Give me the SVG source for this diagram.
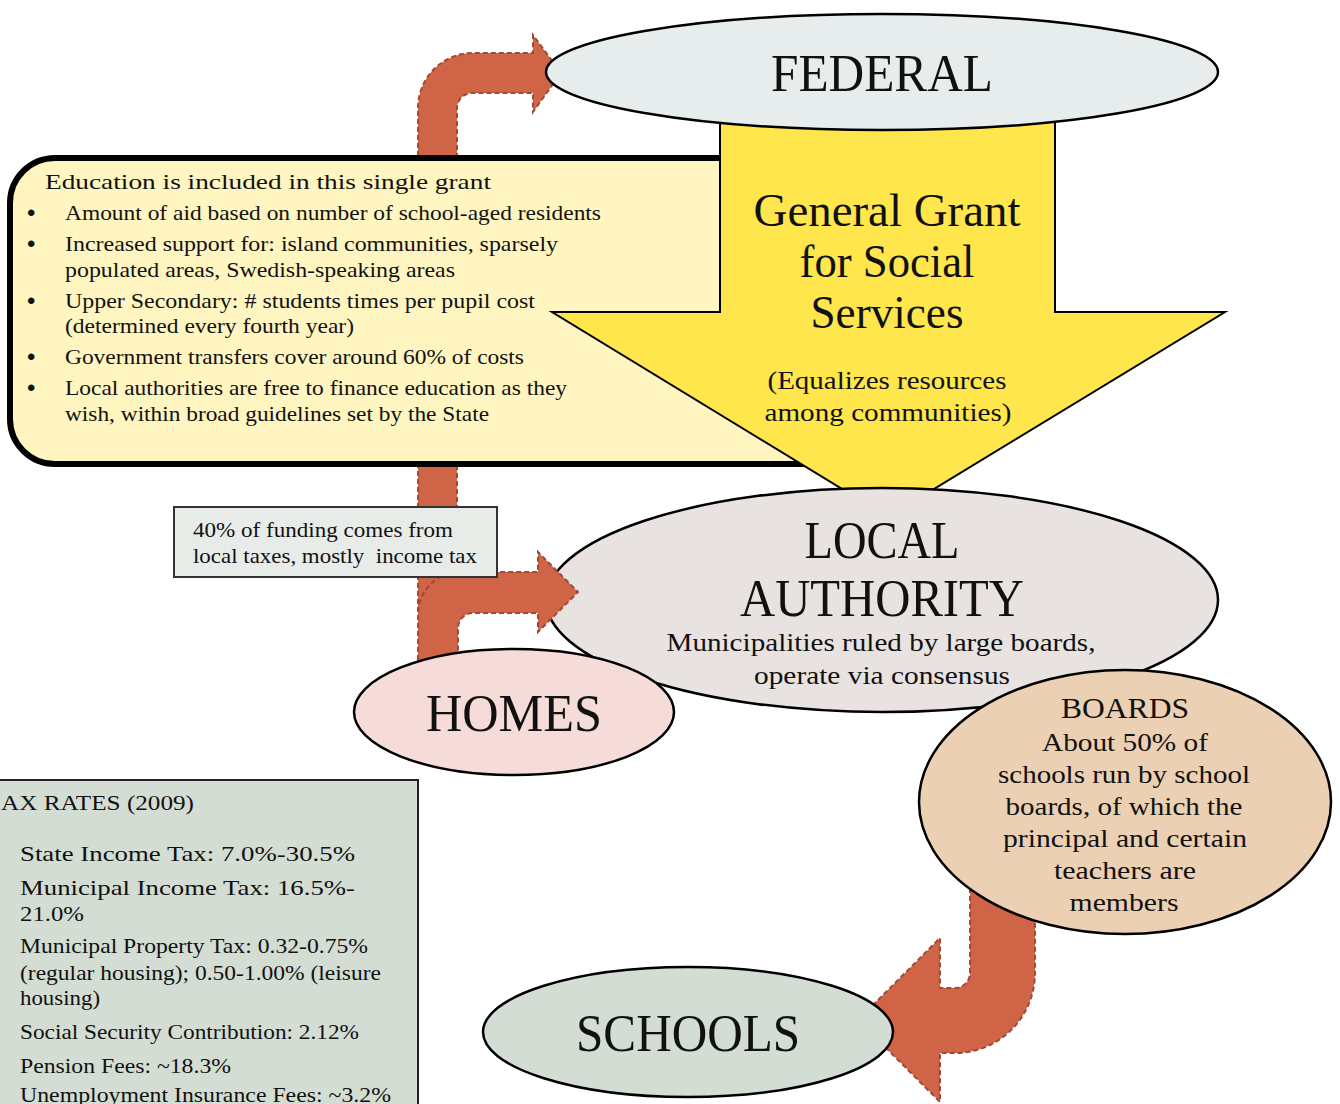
<svg xmlns="http://www.w3.org/2000/svg" width="1340" height="1104" viewBox="0 0 1340 1104" xml:space="preserve">
<style>
.t{font-family:"Liberation Serif",serif;fill:#111;white-space:pre}
.c{text-anchor:middle}
.b{font-family:"Liberation Sans",sans-serif;font-size:24px;fill:#111}
.red{fill:#d06446;stroke:#a04a35;stroke-width:2;stroke-dasharray:5 3}
.ell{stroke:#000;stroke-width:2.5}
</style>
<rect width="1340" height="1104" fill="#fff"/>
<g id="connectors">
<path id="arrow-homes-federal" class="red" d="M418,660 L418,108 A55,55 0 0 1 473,53 L533,53 L533,35 L561,73 L533,112 L533,93 L472,93 A15,15 0 0 0 457,108 L457,660 Z"/>
</g>
<g id="callout">
<path d="M55,158 L900,158 L900,464 L55,464 A45,45 0 0 1 10,419 L10,203 A45,45 0 0 1 55,158 Z" fill="#fff5c0" stroke="#000" stroke-width="6"/>
<text class="t" x="45" y="189" font-size="21" textLength="446" lengthAdjust="spacingAndGlyphs">Education is included in this single grant</text>
<g class="t" font-size="21">
<text class="b" x="27" y="221">•</text><text x="65" y="220" textLength="536" lengthAdjust="spacingAndGlyphs">Amount of aid based on number of school-aged residents</text>
<text class="b" x="27" y="252">•</text><text x="65" y="251" textLength="493" lengthAdjust="spacingAndGlyphs">Increased support for:  island communities, sparsely</text>
<text x="65" y="277" textLength="390" lengthAdjust="spacingAndGlyphs">populated areas,  Swedish-speaking areas</text>
<text class="b" x="27" y="309">•</text><text x="65" y="308" textLength="470" lengthAdjust="spacingAndGlyphs">Upper Secondary:  # students times per pupil cost</text>
<text x="65" y="333" textLength="289" lengthAdjust="spacingAndGlyphs">(determined every fourth year)</text>
<text class="b" x="27" y="365">•</text><text x="65" y="364" textLength="459" lengthAdjust="spacingAndGlyphs">Government transfers cover around 60% of costs</text>
<text class="b" x="27" y="396">•</text><text x="65" y="395" textLength="502" lengthAdjust="spacingAndGlyphs">Local authorities are free to finance education as they</text>
<text x="65" y="421" textLength="424" lengthAdjust="spacingAndGlyphs">wish, within broad guidelines set by the State</text>
</g>
</g>
<g id="grant-arrow">
<path d="M720,100 L1055,100 L1055,312 L1225,312 L888,517 L552,312 L720,312 Z" fill="#ffe64c" stroke="#000" stroke-width="2"/>
<g class="t c">
<text x="887" y="226" font-size="46" textLength="267" lengthAdjust="spacingAndGlyphs">General Grant</text>
<text x="887" y="277" font-size="46" textLength="175" lengthAdjust="spacingAndGlyphs">for Social</text>
<text x="887" y="328" font-size="46" textLength="153" lengthAdjust="spacingAndGlyphs">Services</text>
<text x="887" y="389" font-size="26" textLength="239" lengthAdjust="spacingAndGlyphs">(Equalizes resources</text>
<text x="888" y="421" font-size="26" textLength="247" lengthAdjust="spacingAndGlyphs">among communities)</text>
</g>
</g>
<g id="federal">
<ellipse class="ell" cx="882" cy="72" rx="336" ry="58" fill="#e7eded"/>
<text class="t c" x="882" y="91" font-size="52" textLength="222" lengthAdjust="spacingAndGlyphs">FEDERAL</text>
</g>
<g id="local-authority">
<ellipse class="ell" cx="882" cy="600" rx="336" ry="112" fill="#e8e2e0"/>
<g class="t c">
<text x="882" y="558" font-size="52" textLength="155" lengthAdjust="spacingAndGlyphs">LOCAL</text>
<text x="882" y="616" font-size="52" textLength="284" lengthAdjust="spacingAndGlyphs">AUTHORITY</text>
<text x="881" y="651" font-size="26" textLength="429" lengthAdjust="spacingAndGlyphs">Municipalities ruled by large boards,</text>
<text x="882" y="684" font-size="26" textLength="256" lengthAdjust="spacingAndGlyphs">operate via consensus</text>
</g>
</g>
<g id="connectors-2">
<path id="arrow-homes-local" class="red" d="M418,660 L418,614 A42,42 0 0 1 460,572 L538,572 L538,552 L578,592 L538,632 L538,613 L473,613 A15,15 0 0 0 458,628 L458,660 Z"/>
</g>
<g id="homes">
<ellipse class="ell" cx="514" cy="712" rx="160" ry="63" fill="#f5dcd8"/>
<text class="t c" x="514" y="731" font-size="52" textLength="176" lengthAdjust="spacingAndGlyphs">HOMES</text>
</g>
<g id="local-taxes-note">
<rect x="174" y="507" width="323" height="70" fill="#e8ece8" stroke="#333" stroke-width="2"/>
<text class="t" x="193" y="537" font-size="21" textLength="260" lengthAdjust="spacingAndGlyphs">40% of funding comes from</text>
<text class="t" x="193" y="563" font-size="21" textLength="284" lengthAdjust="spacingAndGlyphs">local taxes, mostly  income tax</text>
</g>
<g id="connectors-3">
<path id="arrow-boards-schools" class="red" d="M970,880 L970,973 A15,15 0 0 1 955,988 L940,988 L940,938 L858,1020 L940,1102 L940,1053 L955,1053 A80,80 0 0 0 1035,973 L1035,880 Z"/>
</g>
<g id="boards">
<ellipse class="ell" cx="1125" cy="802" rx="206" ry="132" fill="#ebd0b3"/>
<g class="t c">
<text x="1125" y="718" font-size="30" textLength="128" lengthAdjust="spacingAndGlyphs">BOARDS</text>
<text x="1125" y="751" font-size="26" textLength="166" lengthAdjust="spacingAndGlyphs">About  50% of</text>
<text x="1124" y="783" font-size="26" textLength="252" lengthAdjust="spacingAndGlyphs">schools run by school</text>
<text x="1124" y="815" font-size="26" textLength="237" lengthAdjust="spacingAndGlyphs">boards, of which the</text>
<text x="1125" y="847" font-size="26" textLength="244" lengthAdjust="spacingAndGlyphs">principal and certain</text>
<text x="1125" y="879" font-size="26" textLength="142" lengthAdjust="spacingAndGlyphs">teachers are</text>
<text x="1124" y="911" font-size="26" textLength="109" lengthAdjust="spacingAndGlyphs">members</text>
</g>
</g>
<g id="schools">
<ellipse class="ell" cx="688" cy="1032" rx="205" ry="65" fill="#d3ddd3"/>
<text class="t c" x="688" y="1051" font-size="52" textLength="224" lengthAdjust="spacingAndGlyphs">SCHOOLS</text>
</g>
<g id="tax-rates">
<rect x="-5" y="780" width="423" height="340" fill="#d4ddd3" stroke="#222" stroke-width="2"/>
<g class="t" font-size="21">
<text x="1" y="810" textLength="193" lengthAdjust="spacingAndGlyphs">AX RATES (2009)</text>
<text x="20" y="861" textLength="335" lengthAdjust="spacingAndGlyphs">State Income Tax:  7.0%-30.5%</text>
<text x="20" y="895" textLength="335" lengthAdjust="spacingAndGlyphs">Municipal Income Tax:  16.5%-</text>
<text x="20" y="921" textLength="64" lengthAdjust="spacingAndGlyphs">21.0%</text>
<text x="20" y="953" textLength="348" lengthAdjust="spacingAndGlyphs">Municipal Property Tax:  0.32-0.75%</text>
<text x="20" y="980" textLength="361" lengthAdjust="spacingAndGlyphs">(regular housing); 0.50-1.00% (leisure</text>
<text x="20" y="1005" textLength="80" lengthAdjust="spacingAndGlyphs">housing)</text>
<text x="20" y="1039" textLength="339" lengthAdjust="spacingAndGlyphs">Social Security Contribution:  2.12%</text>
<text x="20" y="1073" textLength="211" lengthAdjust="spacingAndGlyphs">Pension Fees:  ~18.3%</text>
<text x="20" y="1102" textLength="371" lengthAdjust="spacingAndGlyphs">Unemployment Insurance Fees:  ~3.2%</text>
</g>
</g>
</svg>
